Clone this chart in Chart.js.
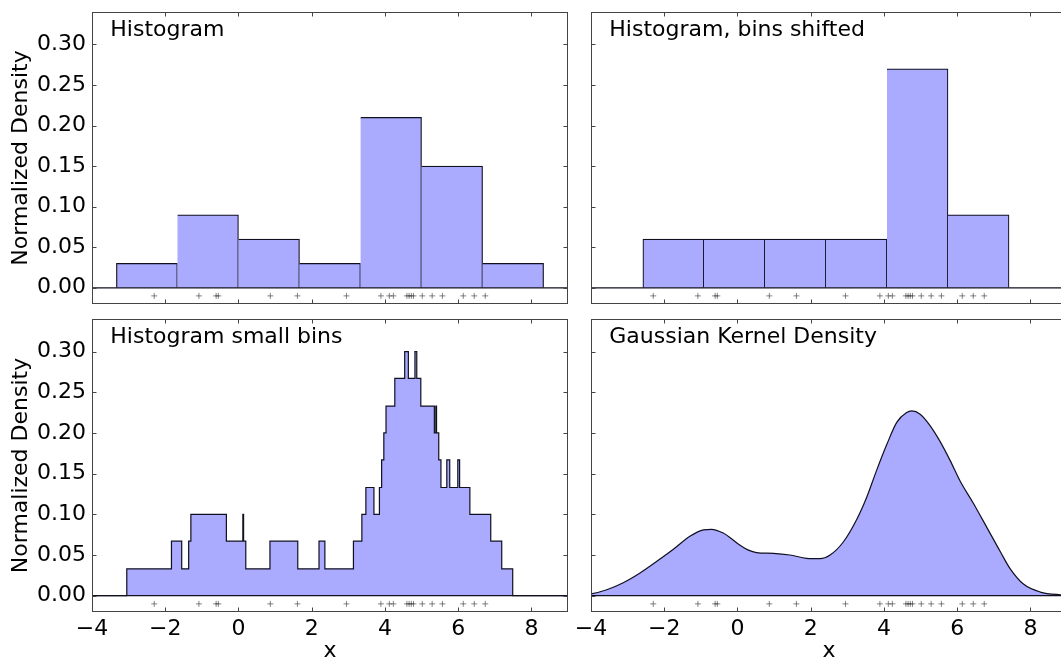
<!DOCTYPE html>
<html lang="en">
<head>
<meta charset="UTF-8">
<title>Histograms and kernel density</title>
<script src="https://cdn.jsdelivr.net/npm/chart.js@4.4.0/dist/chart.umd.min.js"></script>
<style>
html, body { margin: 0; padding: 0; background: #fff; width: 1061px; height: 660px; overflow: hidden; }
canvas { position: absolute; }
</style>
</head>
<body>

<canvas id="histChart" width="576" height="312" style="left:0px;top:0px"></canvas>
<canvas id="shiftChart" width="510" height="312" style="left:565px;top:0px"></canvas>
<canvas id="smallChart" width="576" height="352" style="left:0px;top:312px"></canvas>
<canvas id="kdeChart" width="510" height="352" style="left:565px;top:312px"></canvas>

<script>
// sample points, drawn as the row of '+' marks in every panel
var samples = [-2.30, -1.08, -0.61, -0.55, 0.87, 1.61, 2.95, 3.89, 4.12, 4.23,
               4.60, 4.66, 4.72, 4.78, 5.02, 5.29, 5.57, 6.14, 6.44, 6.74];
var rugLevel = -0.01;

// top left: bin edges and heights
var histEdges = [-3.333, -1.667, 0.000, 1.667, 3.333, 5.000, 6.667, 8.333];
var histHeights = [0.03, 0.09, 0.06, 0.03, 0.21, 0.15, 0.03];

// top right: same bins moved right
var shiftedEdges = [-2.583, -0.917, 0.750, 2.417, 4.083, 5.750, 7.417];
var shiftedHeights = [0.06, 0.06, 0.06, 0.06, 0.27, 0.09];

// bottom left: step curve, level starts at each edge
var smallEdges = [-5.00, -3.05, -1.83, -1.55, -1.36, -1.30, -0.33, 0.12, 0.14, 0.20,
                  0.86, 1.62, 2.20, 2.36, 3.14, 3.37, 3.48, 3.70, 3.85, 3.91,
                  3.97, 4.03, 4.27, 4.54, 4.64, 4.82, 4.87, 4.98, 5.35, 5.39,
                  5.41, 5.47, 5.53, 5.69, 5.77, 5.99, 6.04, 6.32, 6.89, 7.19,
                  7.49, 10.00];
var smallLevels = [0, 0.033, 0.067, 0.033, 0.067, 0.1, 0.067, 0.1, 0.067, 0.033,
                   0.067, 0.033, 0.067, 0.033, 0.067, 0.1, 0.133, 0.1, 0.133, 0.167,
                   0.2, 0.233, 0.267, 0.3, 0.267, 0.3, 0.267, 0.233, 0.2, 0.233,
                   0.2, 0.167, 0.133, 0.167, 0.133, 0.167, 0.133, 0.1, 0.067, 0.033,
                   0, 0];

// bottom right: gaussian density curve
var kdeX = [-5.00, -4.50, -4.03, -3.57, -3.12, -2.66, -2.21, -1.75, -1.30, -0.93,
            -0.71, -0.39, -0.16, 0.07, 0.30, 0.52, 0.98, 1.43, 1.89, 2.25, 2.53, 2.89,
            3.26, 3.53, 3.80, 4.08, 4.35, 4.62, 4.76, 4.99, 5.26, 5.54,
            5.81, 6.08, 6.45, 6.81, 7.18, 7.45, 7.81, 8.27, 8.81, 9.50, 10.00];
var kdeY = [0.0003, 0.0009, 0.0020, 0.0074, 0.016, 0.028, 0.042, 0.057, 0.073, 0.081,
            0.0816, 0.077, 0.070, 0.062, 0.056, 0.053, 0.052, 0.050, 0.046, 0.0455, 0.050, 0.066,
            0.094, 0.121, 0.154, 0.186, 0.213, 0.225, 0.227, 0.223, 0.209, 0.189,
            0.166, 0.141, 0.113, 0.084, 0.054, 0.033, 0.0143, 0.0045, 0.0012, 0.0002, 0];

var xTicks = [-4, -2, 0, 2, 4, 6, 8];
var yTicks = [0, 0.05, 0.10, 0.15, 0.20, 0.25, 0.30];
var xRange = [-4, 9];
var yRange = [-0.02, 0.34];
var baseX = [-5, 10];
var titleAt = [-3.5, 0.31];

var fillColor = '#aaaaff';
var edgeColor = '#101020';

Chart.defaults.font.family = '"DejaVu Sans", sans-serif';
Chart.defaults.color = '#000';

// box, inward ticks on all four sides, and the panel caption
var panelFrame = {
  id: 'panelFrame',
  afterDraw: function (chart, args, opts) {
    var ctx = chart.ctx, a = chart.chartArea;
    var xs = chart.scales.x, ys = chart.scales.y;
    var l = Math.round(a.left) + 0.5, r = Math.round(a.right) - 0.5;
    var t = Math.round(a.top) + 0.5, b = Math.round(a.bottom) - 0.5;
    ctx.save();
    ctx.strokeStyle = '#444';
    ctx.lineWidth = 1;
    ctx.strokeRect(l, t, r - l, b - t);
    ctx.beginPath();
    xTicks.forEach(function (v) {
      var p = Math.round(xs.getPixelForValue(v)) + 0.5;
      ctx.moveTo(p, b); ctx.lineTo(p, b - 4);
      ctx.moveTo(p, t); ctx.lineTo(p, t + 4);
    });
    yTicks.forEach(function (v) {
      var p = Math.round(ys.getPixelForValue(v)) + 0.5;
      ctx.moveTo(l, p); ctx.lineTo(l + 4, p);
      ctx.moveTo(r, p); ctx.lineTo(r - 4, p);
    });
    ctx.stroke();
    ctx.font = '22px "DejaVu Sans"';
    ctx.fillStyle = '#000';
    ctx.textBaseline = 'alphabetic';
    ctx.textAlign = 'left';
    ctx.fillText(opts.title, xs.getPixelForValue(titleAt[0]), ys.getPixelForValue(titleAt[1]));
    ctx.restore();
  }
};

function histDataset(edges, heights) {
  var pts = heights.map(function (h, i) {
    return { x: (edges[i] + edges[i + 1]) / 2, y: h };
  });
  return {
    type: 'bar',
    data: pts,
    backgroundColor: fillColor,
    borderColor: edgeColor,
    borderWidth: function (c) {
      return { top: 1.2, right: 1.2, bottom: 0, left: c.dataIndex === 0 ? 1.2 : 0 };
    },
    borderSkipped: 'start',
    barPercentage: 1,
    categoryPercentage: 1,
    order: 2
  };
}

function makePanel(id, main, title, showX, showY, padding) {
  var datasets = [
    {
      type: 'scatter',
      data: samples.map(function (v) { return { x: v, y: rugLevel }; }),
      pointStyle: 'cross',
      pointRadius: 3,
      pointBorderColor: '#333',
      pointBorderWidth: 0.6,
      showLine: false,
      order: 0
    },
    {
      type: 'line',
      data: baseX.map(function (v) { return { x: v, y: 0 }; }),
      borderColor: edgeColor,
      borderWidth: 1.2,
      pointRadius: 0,
      order: 1
    },
    main
  ];

  return new Chart(document.getElementById(id), {
    type: 'scatter',
    data: { datasets: datasets },
    plugins: [panelFrame],
    options: {
      responsive: false,
      animation: false,
      events: [],
      layout: { padding: padding },
      plugins: {
        legend: { display: false },
        tooltip: { enabled: false },
        panelFrame: { title: title }
      },
      scales: {
        x: {
          type: 'linear',
          offset: false,
          min: xRange[0],
          max: xRange[1],
          grid: { display: false, drawTicks: false, offset: false },
          border: { display: false },
          afterBuildTicks: function (s) { s.ticks = xTicks.map(function (v) { return { value: v }; }); },
          afterFit: function (s) { s.height = showX ? 52 : 0; s.paddingLeft = 0; s.paddingRight = 0; },
          ticks: {
            display: showX,
            autoSkip: false,
            maxRotation: 0,
            padding: 4,
            font: { size: 22 },
            callback: function (v) { return v < 0 ? '\u2212' + Math.abs(v) : String(v); }
          },
          title: { display: showX, text: 'x', font: { size: 22 }, padding: { top: 0, bottom: 0 } }
        },
        y: {
          type: 'linear',
          min: yRange[0],
          max: yRange[1],
          grid: { display: false, drawTicks: false },
          border: { display: false },
          afterBuildTicks: function (s) { s.ticks = yTicks.map(function (v) { return { value: v }; }); },
          afterFit: function (s) { s.width = showY ? 92 : 0; s.paddingTop = 0; s.paddingBottom = 0; },
          ticks: {
            display: showY,
            padding: 6,
            font: { size: 22 },
            callback: function (v) { return v.toFixed(2); }
          },
          title: { display: showY, text: 'Normalized Density', font: { size: 22 }, padding: { top: 8, bottom: 0 } }
        }
      }
    }
  });
}

var smallDataset = {
  type: 'line',
  data: smallEdges.map(function (e, i) { return { x: e, y: smallLevels[i] }; }),
  stepped: true,
  fill: 'origin',
  backgroundColor: fillColor,
  borderColor: edgeColor,
  borderWidth: 1.2,
  pointRadius: 0,
  order: 2
};

var kdeDataset = {
  type: 'line',
  data: kdeX.map(function (x, i) { return { x: x, y: kdeY[i] }; }),
  cubicInterpolationMode: 'monotone',
  fill: 'origin',
  backgroundColor: fillColor,
  borderColor: edgeColor,
  borderWidth: 1.2,
  pointRadius: 0,
  order: 2
};

makePanel('histChart', histDataset(histEdges, histHeights), 'Histogram', false, true,
  { top: 12, right: 8, bottom: 8, left: 0 });
makePanel('shiftChart', histDataset(shiftedEdges, shiftedHeights), 'Histogram, bins shifted', false, false,
  { top: 12, right: 8, bottom: 8, left: 26 });
makePanel('smallChart', smallDataset, 'Histogram small bins', true, true,
  { top: 7, right: 8, bottom: 0, left: 0 });
makePanel('kdeChart', kdeDataset, 'Gaussian Kernel Density', true, false,
  { top: 7, right: 8, bottom: 0, left: 26 });
</script>

</body>
</html>
